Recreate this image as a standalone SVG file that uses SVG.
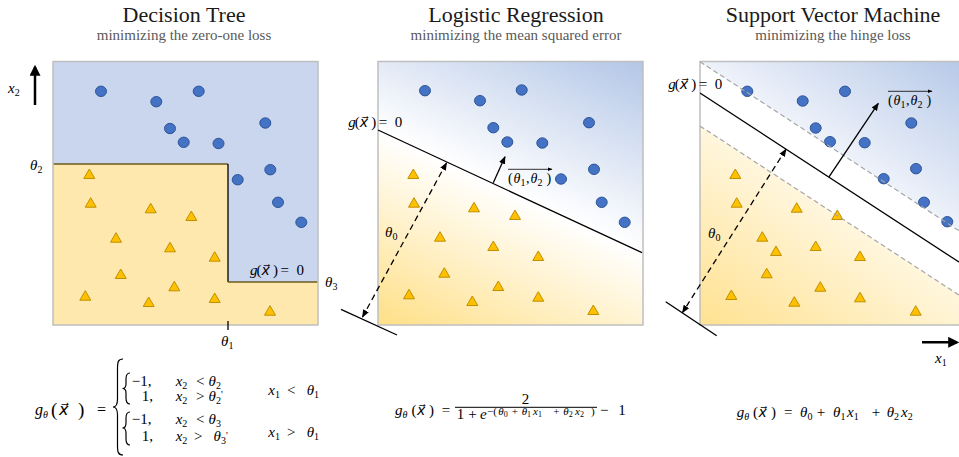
<svg xmlns="http://www.w3.org/2000/svg" xmlns:xlink="http://www.w3.org/1999/xlink" width="959" height="457" viewBox="0 0 959 457">
<style>
.title{font-family:"Liberation Serif",serif;font-size:22px;fill:#1a1a1a;text-anchor:middle}
.sub{font-family:"Liberation Serif",serif;font-size:15px;fill:#595959;text-anchor:middle}
.m{font-family:"Liberation Serif","DejaVu Serif",serif;font-size:15px;fill:#000}
.i{font-style:italic}
.s{font-size:10px}
.va{font-family:"DejaVu Serif","DejaVu Sans",serif;font-size:14px}
.dot{fill:#4472C4;stroke:#2F5597;stroke-width:1}
.tri{fill:#FFC000;stroke:#BF9000;stroke-width:1}
.frame{fill:none;stroke:#BFBFBF;stroke-width:1.5}
.ln{fill:none;stroke:#000;stroke-width:1.3}
.dash{fill:none;stroke:#000;stroke-width:1.3;stroke-dasharray:6 4}
.mg{fill:none;stroke:#A6A6A6;stroke-width:1.2;stroke-dasharray:5 3}
.br{fill:none;stroke:#000;stroke-width:1.2}
</style>
<defs>
<path id="tri" class="tri" d="M0,-5 L5.5,4.5 L-5.5,4.5 Z"/>
<marker id="ah" viewBox="0 0 10 10" refX="9" refY="5" markerWidth="8" markerHeight="8" markerUnits="userSpaceOnUse" orient="auto-start-reverse"><path d="M0,1 L10,5 L0,9 Z" fill="#000"/></marker>
<marker id="ahs" viewBox="0 0 10 10" refX="9" refY="5" markerWidth="5" markerHeight="5" markerUnits="userSpaceOnUse" orient="auto"><path d="M0,1 L10,5 L0,9 Z" fill="#000"/></marker>
<marker id="ahb" viewBox="0 0 10 10" refX="8" refY="5" markerWidth="11" markerHeight="11" markerUnits="userSpaceOnUse" orient="auto"><path d="M0,0 L10,5 L0,10 Z" fill="#000"/></marker>
<linearGradient id="lrGrad" gradientUnits="userSpaceOnUse" x1="434" y1="354.6" x2="586" y2="28.2">
<stop offset="0" stop-color="#FFDF85"/><stop offset="0.5" stop-color="#FFFFFF"/><stop offset="1" stop-color="#B0C4E6"/>
</linearGradient>
<linearGradient id="svBlue" gradientUnits="userSpaceOnUse" x1="830" y1="146.6" x2="912" y2="21">
<stop offset="0" stop-color="#EEF2FA"/><stop offset="1" stop-color="#B4C7E7"/>
</linearGradient>
<linearGradient id="svYel" gradientUnits="userSpaceOnUse" x1="760" y1="165.2" x2="664" y2="311.7">
<stop offset="0" stop-color="#FFF6DD"/><stop offset="1" stop-color="#FFE08C"/>
</linearGradient>
<clipPath id="c3"><rect x="700" y="61.5" width="265" height="263.5"/></clipPath>
</defs>

<g id="titles">
<text class="title" x="184" y="22">Decision Tree</text>
<text class="sub" x="184" y="40">minimizing  the zero-one loss</text>
<text class="title" x="516" y="22">Logistic Regression</text>
<text class="sub" x="516" y="40">minimizing  the mean squared error</text>
<text class="title" x="833" y="22">Support Vector Machine</text>
<text class="sub" x="833" y="40">minimizing  the hinge loss</text>
</g>

<g id="panel-tree">
<rect x="53" y="61.5" width="265" height="263.5" fill="#C9D6EE"/>
<path d="M53,164 H228 V282 H318 V325 H53 Z" fill="#FFE8AE"/>
<path d="M53,164 H228" stroke="#6B5A1E" stroke-width="1.3" fill="none"/>
<path d="M228,164 V282" stroke="#000" stroke-width="1.3" fill="none"/>
<path d="M228,282 H318" stroke="#6B5A1E" stroke-width="1.3" fill="none"/>
<rect class="frame" x="53" y="61.5" width="265" height="263.5"/>
<path d="M228,321 V330" class="ln"/>
<g id="dots1">
<ellipse class="dot" cx="101" cy="91.3" rx="5.5" ry="5.2"/>
<ellipse class="dot" cx="156.3" cy="101.7" rx="5.5" ry="5.2"/>
<ellipse class="dot" cx="198.7" cy="91.3" rx="5.5" ry="5.2"/>
<ellipse class="dot" cx="170" cy="128.5" rx="5.5" ry="5.2"/>
<ellipse class="dot" cx="183.7" cy="142.3" rx="5.5" ry="5.2"/>
<ellipse class="dot" cx="218.5" cy="143.5" rx="5.5" ry="5.2"/>
<ellipse class="dot" cx="265.3" cy="123" rx="5.5" ry="5.2"/>
<ellipse class="dot" cx="237.7" cy="179.7" rx="5.5" ry="5.2"/>
<ellipse class="dot" cx="270.3" cy="169.7" rx="5.5" ry="5.2"/>
<ellipse class="dot" cx="278" cy="202.3" rx="5.5" ry="5.2"/>
<ellipse class="dot" cx="301.3" cy="222.3" rx="5.5" ry="5.2"/>
</g>
<g id="tris1">
<use href="#tri" x="89.3" y="174"/><use href="#tri" x="90.7" y="202.7"/><use href="#tri" x="150.7" y="208.3"/>
<use href="#tri" x="191.3" y="216"/><use href="#tri" x="116" y="237.7"/><use href="#tri" x="170" y="247.3"/>
<use href="#tri" x="214.7" y="256.7"/><use href="#tri" x="120.7" y="274"/><use href="#tri" x="174.3" y="286.3"/>
<use href="#tri" x="85.3" y="295.7"/><use href="#tri" x="148.7" y="302"/><use href="#tri" x="214.7" y="298"/>
<use href="#tri" x="270" y="310.7"/>
</g>
<text class="m" y="275"><tspan x="250" class="i">g</tspan><tspan x="256.5">(</tspan><tspan x="261.5" class="i va">x⃗</tspan><tspan x="273">)</tspan><tspan x="280.5">=</tspan><tspan x="296.5">0</tspan></text>
<text class="m" y="170"><tspan x="30" class="i">θ</tspan><tspan class="s" dy="3">2</tspan></text>
<text class="m" y="287"><tspan x="325" class="i">θ</tspan><tspan class="s" dy="3">3</tspan></text>
<text class="m" y="346"><tspan x="221" class="i">θ</tspan><tspan class="s" dy="3">1</tspan></text>
<path d="M35,105 V67" stroke="#000" stroke-width="2.5" marker-end="url(#ahb)"/>
<text class="m" y="93"><tspan x="8" class="i">x</tspan><tspan class="s" dy="3">2</tspan></text>
</g>

<g id="panel-logistic">
<rect x="378" y="61.5" width="265" height="263.5" fill="url(#lrGrad)"/>
<rect class="frame" x="378" y="61.5" width="265" height="263.5"/>
<g id="dots2">
<ellipse class="dot" cx="425" cy="90.7" rx="5.5" ry="5.2"/>
<ellipse class="dot" cx="480" cy="100.7" rx="5.5" ry="5.2"/>
<ellipse class="dot" cx="521.7" cy="90" rx="5.5" ry="5.2"/>
<ellipse class="dot" cx="493.3" cy="127.7" rx="5.5" ry="5.2"/>
<ellipse class="dot" cx="507.3" cy="142" rx="5.5" ry="5.2"/>
<ellipse class="dot" cx="542.3" cy="143" rx="5.5" ry="5.2"/>
<ellipse class="dot" cx="589" cy="122.7" rx="5.5" ry="5.2"/>
<ellipse class="dot" cx="561" cy="179" rx="5.5" ry="5.2"/>
<ellipse class="dot" cx="594" cy="169.3" rx="5.5" ry="5.2"/>
<ellipse class="dot" cx="601.7" cy="202.3" rx="5.5" ry="5.2"/>
<ellipse class="dot" cx="624.7" cy="222.3" rx="5.5" ry="5.2"/>
</g>
<g id="tris2">
<use href="#tri" x="413.3" y="174"/><use href="#tri" x="414" y="202.7"/><use href="#tri" x="474" y="207.3"/>
<use href="#tri" x="515" y="215"/><use href="#tri" x="440" y="236.7"/><use href="#tri" x="493.3" y="246"/>
<use href="#tri" x="538.3" y="256"/><use href="#tri" x="444.3" y="272.7"/><use href="#tri" x="498.3" y="286"/>
<use href="#tri" x="409" y="294.3"/><use href="#tri" x="472.3" y="301"/><use href="#tri" x="538.3" y="296.7"/>
<use href="#tri" x="593.3" y="310"/>
</g>
</g>

<g id="panel-svm">
<g clip-path="url(#c3)">
<rect x="700" y="61.5" width="265" height="263.5" fill="#FFFFFF"/>
<polygon points="700,61.7 965,61.7 965,234.7" fill="url(#svBlue)"/>
<polygon points="700,126 965,299 965,325 700,325" fill="url(#svYel)"/>
</g>
<path d="M965,61.5 H700 V325 H965" class="frame"/>
<g id="dots3">
<ellipse class="dot" cx="747.3" cy="91.3" rx="5.5" ry="5.2"/>
<ellipse class="dot" cx="802.7" cy="101" rx="5.5" ry="5.2"/>
<ellipse class="dot" cx="845" cy="91.3" rx="5.5" ry="5.2"/>
<ellipse class="dot" cx="815.7" cy="128" rx="5.5" ry="5.2"/>
<ellipse class="dot" cx="830" cy="141.7" rx="5.5" ry="5.2"/>
<ellipse class="dot" cx="864.7" cy="142.7" rx="5.5" ry="5.2"/>
<ellipse class="dot" cx="911.3" cy="123" rx="5.5" ry="5.2"/>
<ellipse class="dot" cx="883.7" cy="178.7" rx="5.5" ry="5.2"/>
<ellipse class="dot" cx="916" cy="168.7" rx="5.5" ry="5.2"/>
<ellipse class="dot" cx="924" cy="202.3" rx="5.5" ry="5.2"/>
<ellipse class="dot" cx="947.3" cy="221.7" rx="5.5" ry="5.2"/>
</g>
<g id="tris3">
<use href="#tri" x="735.3" y="174"/><use href="#tri" x="736.7" y="202.7"/><use href="#tri" x="796.7" y="207.7"/>
<use href="#tri" x="837.3" y="215"/><use href="#tri" x="762.3" y="236.7"/><use href="#tri" x="776" y="251"/>
<use href="#tri" x="815.7" y="246"/><use href="#tri" x="860" y="256"/><use href="#tri" x="766.7" y="273.3"/>
<use href="#tri" x="820.3" y="286.7"/><use href="#tri" x="731.3" y="295"/><use href="#tri" x="794.3" y="301.7"/>
<use href="#tri" x="860" y="297.3"/><use href="#tri" x="915.7" y="310.7"/>
</g>
<path d="M922,342.3 H957" stroke="#000" stroke-width="2.5" marker-end="url(#ahb)"/>
<text class="m" y="363"><tspan x="935" class="i">x</tspan><tspan class="s" dy="3">1</tspan></text>
</g>

<g id="connectors">
<path class="ln" d="M378,130 L642,252.7"/>
<path class="ln" d="M341,309.3 L397,335"/>
<path class="dash" d="M446.5,163 L362.5,317" marker-start="url(#ah)" marker-end="url(#ah)"/>
<path class="ln" d="M493.3,182.7 L505,156.7" marker-end="url(#ah)"/>
<path d="M508,169.3 H552" stroke="#000" stroke-width="0.8" marker-end="url(#ahs)"/>
<g clip-path="url(#c3)">
<path class="mg" d="M700,61.7 L965,234.7"/>
<path class="mg" d="M700,126 L965,299"/>
<path class="ln" d="M700,93 L965,266"/>
</g>
<path class="ln" d="M665.7,301.7 L716.7,335.7"/>
<path class="dash" d="M786,149.3 L682.5,312.5" marker-start="url(#ah)" marker-end="url(#ah)"/>
<path class="ln" d="M829,176.8 L878.3,103.3" marker-end="url(#ah)"/>
<path d="M888,91.3 H932" stroke="#000" stroke-width="0.8" marker-end="url(#ahs)"/>
</g>

<g id="labels">
<text class="m" y="126.5"><tspan x="348.3" class="i">g</tspan><tspan x="354.8">(</tspan><tspan x="359.8" class="i va">x⃗</tspan><tspan x="371.3">)</tspan><tspan x="378.8">=</tspan><tspan x="394.8">0</tspan></text>
<text class="m" y="89"><tspan x="668.3" class="i">g</tspan><tspan x="674.8">(</tspan><tspan x="679.8" class="i va">x⃗</tspan><tspan x="691.3">)</tspan><tspan x="698.8">=</tspan><tspan x="714.8">0</tspan></text>
<text class="m" y="236.5"><tspan x="385" class="i">θ</tspan><tspan class="s" dy="3">0</tspan></text>
<text class="m" y="238"><tspan x="708" class="i">θ</tspan><tspan class="s" dy="3">0</tspan></text>
<text class="m" y="183" style="font-size:14px"><tspan x="508">(</tspan><tspan x="513.5" class="i">θ</tspan><tspan class="s" dy="3">1</tspan><tspan dy="-3" x="526">,</tspan><tspan x="530.5" class="i">θ</tspan><tspan class="s" dy="3">2</tspan><tspan dy="-3" x="546.5">)</tspan></text>
<text class="m" y="105" style="font-size:14px"><tspan x="888">(</tspan><tspan x="893.5" class="i">θ</tspan><tspan class="s" dy="3">1</tspan><tspan dy="-3" x="906">,</tspan><tspan x="910.5" class="i">θ</tspan><tspan class="s" dy="3">2</tspan><tspan dy="-3" x="926.5">)</tspan></text>
</g>

<g id="formula-tree">
<text class="m" y="415" style="font-size:16px"><tspan x="35" class="i">g</tspan><tspan class="s i" dy="3">θ</tspan><tspan dy="-2" x="51" style="font-size:19px">(</tspan><tspan dy="-1" x="59" class="i va" style="font-size:16px">x⃗</tspan><tspan x="78" dy="1" style="font-size:19px">)</tspan><tspan dy="-1" x="97">=</tspan></text>
<path class="br" d="M123,359 C118,359 117.5,362 117.5,369 L117.5,399 C117.5,405 116,407 113,407 C116,407 117.5,409 117.5,415 L117.5,445 C117.5,452 118,455 123,455"/>
<path class="br" d="M130,373 C127,373 126,375 126,379 L126,384 C126,387 125,388.5 122.5,388.5 C125,388.5 126,390 126,393 L126,398 C126,402 127,404 130,404"/>
<path class="br" d="M130,412 C127,412 126,414 126,418 L126,423 C126,426.5 125,428 122.5,428 C125,428 126,429.5 126,433 L126,439 C126,443 127,445 130,445"/>
<text class="m" y="385.5"><tspan x="131.7">−1,</tspan><tspan x="175.7" class="i">x</tspan><tspan class="s" dy="3">2</tspan><tspan dy="-3" x="196">&lt;</tspan><tspan x="208.5" class="i">θ</tspan><tspan class="s" dy="3">2</tspan></text>
<text class="m" y="401"><tspan x="141.7">1,</tspan><tspan x="175.7" class="i">x</tspan><tspan class="s" dy="3">2</tspan><tspan dy="-3" x="196">&gt;</tspan><tspan x="208.5" class="i">θ</tspan><tspan class="s" dy="3">2</tspan><tspan class="s" dy="-6">'</tspan></text>
<text class="m" y="395"><tspan x="268.3" class="i">x</tspan><tspan class="s" dy="3">1</tspan><tspan dy="-3" x="287">&lt;</tspan><tspan x="306.7" class="i">θ</tspan><tspan class="s" dy="3">1</tspan></text>
<text class="m" y="424"><tspan x="131.7">−1,</tspan><tspan x="175.7" class="i">x</tspan><tspan class="s" dy="3">2</tspan><tspan dy="-3" x="196">&lt;</tspan><tspan x="208.5" class="i">θ</tspan><tspan class="s" dy="3">3</tspan></text>
<text class="m" y="441"><tspan x="141.7">1,</tspan><tspan x="175.7" class="i">x</tspan><tspan class="s" dy="3">2</tspan><tspan dy="-3" x="194">&gt;</tspan><tspan x="213.5" class="i">θ</tspan><tspan class="s" dy="3">3</tspan><tspan class="s" dy="-5">'</tspan></text>
<text class="m" y="437"><tspan x="268.3" class="i">x</tspan><tspan class="s" dy="3">1</tspan><tspan dy="-3" x="287">&gt;</tspan><tspan x="306.7" class="i">θ</tspan><tspan class="s" dy="3">1</tspan></text>
</g>

<g id="formula-logistic">
<text class="m" y="415"><tspan x="395" class="i">g</tspan><tspan class="s i" dy="3">θ</tspan><tspan dy="-3" x="411.5">(</tspan><tspan x="417" class="i va">x⃗</tspan><tspan x="429">)</tspan><tspan x="441.7">=</tspan></text>
<text class="m" y="403.5" x="521.7">2</text>
<path d="M455,407.3 H597" stroke="#000" stroke-width="1"/>
<text class="m" y="418.5"><tspan x="456.7">1</tspan><tspan x="468.3">+</tspan><tspan x="480" class="i">e</tspan></text>
<text class="m" y="415" style="font-size:11px"><tspan x="487">−(</tspan><tspan x="498.3" class="i">θ</tspan><tspan style="font-size:8px" dy="2">0</tspan><tspan dy="-2" x="511.7">+</tspan><tspan x="521.7" class="i">θ</tspan><tspan style="font-size:8px" dy="2">1</tspan><tspan dy="-2" x="533" class="i">x</tspan><tspan style="font-size:8px" dy="2">1</tspan><tspan dy="-2" x="553.3">+</tspan><tspan x="563.3" class="i">θ</tspan><tspan style="font-size:8px" dy="2">2</tspan><tspan dy="-2" x="575" class="i">x</tspan><tspan style="font-size:8px" dy="2">2</tspan><tspan dy="-2" x="591">)</tspan></text>
<text class="m" y="415"><tspan x="600">−</tspan><tspan x="618.3">1</tspan></text>
</g>

<g id="formula-svm">
<text class="m" y="416.5"><tspan x="736.7" class="i">g</tspan><tspan class="s i" dy="3">θ</tspan><tspan dy="-3" x="753">(</tspan><tspan x="758.5" class="i va">x⃗</tspan><tspan x="771">)</tspan><tspan x="784">=</tspan><tspan x="800" class="i">θ</tspan><tspan class="s" dy="3">0</tspan><tspan dy="-3" x="816.7">+</tspan><tspan x="833" class="i">θ</tspan><tspan class="s" dy="3">1</tspan><tspan dy="-3" x="847" class="i">x</tspan><tspan class="s" dy="3">1</tspan><tspan dy="-3" x="871.7">+</tspan><tspan x="886.7" class="i">θ</tspan><tspan class="s" dy="3">2</tspan><tspan dy="-3" x="901" class="i">x</tspan><tspan class="s" dy="3">2</tspan></text>
</g>
</svg>
